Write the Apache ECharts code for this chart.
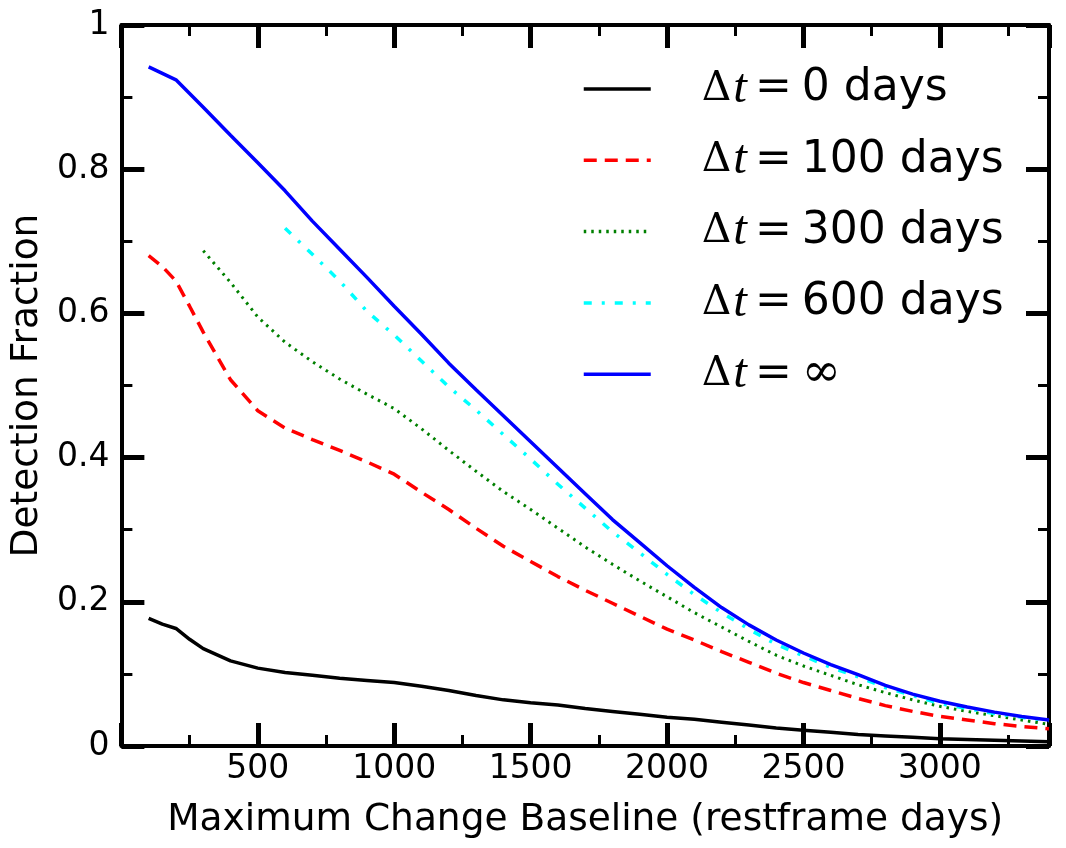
<!DOCTYPE html>
<html>
<head>
<meta charset="utf-8">
<script src="https://cdn.jsdelivr.net/npm/echarts@6/dist/echarts.min.js"></script>
<style>
  html, body { margin: 0; padding: 0; background: #fff; }
  #chart { width: 1066px; height: 848px; }
</style>
</head>
<body>
<div id="chart"></div>
<script>
// maximum change baseline (restframe days)
const baseline = [100, 150, 200, 250, 300, 400, 500, 600, 700, 800, 900, 1000, 1100, 1200, 1300, 1400,
  1500, 1600, 1700, 1800, 1900, 2000, 2100, 2200, 2300, 2400, 2500, 2600, 2700, 2800, 2900, 3000,
  3100, 3200, 3300, 3400];

// detection fraction for each Δt
const dt0 = [0.177, 0.169, 0.163, 0.148, 0.135, 0.118, 0.108, 0.102, 0.098, 0.094, 0.091, 0.088, 0.083, 0.077,
  0.070, 0.064, 0.060, 0.057, 0.052, 0.048, 0.044, 0.040, 0.037, 0.033, 0.029, 0.025, 0.022, 0.019, 0.016,
  0.014, 0.012, 0.010, 0.009, 0.008, 0.007, 0.006];
const dt100 = [0.680, 0.665, 0.645, 0.610, 0.574, 0.508, 0.465, 0.441, 0.425, 0.410, 0.394, 0.377, 0.352, 0.328,
  0.302, 0.277, 0.256, 0.235, 0.216, 0.198, 0.180, 0.162, 0.147, 0.131, 0.116, 0.101, 0.088, 0.077, 0.066,
  0.056, 0.048, 0.041, 0.036, 0.031, 0.027, 0.024];
const dt300 = [null, null, null, null, 0.687, 0.643, 0.595, 0.560, 0.533, 0.509, 0.488, 0.468, 0.440, 0.410,
  0.381, 0.353, 0.328, 0.302, 0.276, 0.252, 0.229, 0.207, 0.185, 0.165, 0.145, 0.126, 0.111, 0.098, 0.085,
  0.074, 0.064, 0.055, 0.048, 0.042, 0.036, 0.030];
const dt600 = [null, null, null, null, null, null, null, 0.718, 0.682, 0.645, 0.603, 0.570, 0.534, 0.498,
  0.466, 0.432, 0.398, 0.363, 0.330, 0.297, 0.268, 0.238, 0.210, 0.185, 0.162, 0.141, 0.125, 0.109, 0.096,
  0.081, 0.070, 0.059, 0.052, 0.045, 0.040, 0.035];
const dtInf = [0.942, 0.933, 0.924, 0.905, 0.886, 0.847, 0.809, 0.770, 0.728, 0.689, 0.650, 0.610, 0.571, 0.531,
  0.494, 0.458, 0.422, 0.386, 0.350, 0.314, 0.282, 0.250, 0.220, 0.192, 0.168, 0.147, 0.129, 0.113, 0.099,
  0.084, 0.072, 0.062, 0.054, 0.047, 0.041, 0.036];

const seriesNames = ["dt0", "dt100", "dt300", "dt600", "dtInf"];
const legendTails = ["0 days", "100 days", "300 days", "600 days", "∞"];

const font = "DejaVu Sans";
const ink = "#000";

function pairs(ys) {
  return baseline.map((x, i) => [x, ys[i]]);
}

function legendText(name) {
  const i = seriesNames.indexOf(name);
  const tail = i === 4 ? `{inf|${legendTails[i]}}` : `{n|${legendTails[i]}}`;
  return `{d|Δ}{t|t}{e|=}${tail}`;
}

function xAxisMajor(position, showLabel) {
  return {
    type: "value",
    position,
    min: 0,
    max: 3400,
    interval: 500,
    axisLine: { show: true, onZero: false, lineStyle: { color: ink, width: 4 } },
    axisTick: { show: true, inside: true, length: 23, lineStyle: { color: ink, width: 5 } },
    axisLabel: {
      show: showLabel,
      color: ink,
      fontFamily: font,
      fontSize: 33,
      margin: 7,
      formatter: (v) => (v === 0 || v === 3400 ? "" : String(v)),
    },
    splitLine: { show: false },
  };
}

function xAxisMinor(position) {
  return {
    type: "value",
    position,
    min: 0,
    max: 3400,
    interval: 250,
    axisLine: { show: false, onZero: false },
    axisTick: { show: true, inside: true, length: 11, lineStyle: { color: ink, width: 3 } },
    axisLabel: { show: false },
    splitLine: { show: false },
  };
}

function yAxisSide(position, showLabel) {
  return {
    type: "value",
    position,
    min: 0,
    max: 1,
    interval: 0.2,
    axisLine: { show: true, onZero: false, lineStyle: { color: ink, width: 4 } },
    axisTick: { show: true, inside: true, length: 23, lineStyle: { color: ink, width: 5 } },
    minorTick: { show: true, splitNumber: 2, length: 11, lineStyle: { color: ink, width: 3 } },
    axisLabel: { show: showLabel, color: ink, fontFamily: font, fontSize: 33, margin: 12 },
    splitLine: { show: false },
    minorSplitLine: { show: false },
  };
}

const chart = echarts.init(document.getElementById("chart"), null, { renderer: "canvas" });

const bottomX = xAxisMajor("bottom", true);
bottomX.name = "Maximum Change Baseline (restframe days)";
bottomX.nameLocation = "middle";
bottomX.nameGap = 55;
bottomX.nameTextStyle = { color: ink, fontFamily: font, fontSize: 37.5 };

const leftY = yAxisSide("left", true);
leftY.name = "Detection Fraction";
leftY.nameLocation = "middle";
leftY.nameGap = 73;
leftY.nameTextStyle = { color: ink, fontFamily: font, fontSize: 37.5 };

const styles = [
  { color: "#000000", width: 3.5, type: "solid" },
  { color: "#ff0000", width: 3.5, type: [13, 8] },
  { color: "#008000", width: 3, type: [2.5, 5] },
  { color: "#00ffff", width: 3.5, type: [8, 10, 3, 10] },
  { color: "#0000ff", width: 3.5, type: "solid" },
];
const values = [dt0, dt100, dt300, dt600, dtInf];

chart.setOption({
  animation: false,
  backgroundColor: "#fff",
  grid: { left: 119, right: 17, top: 25, bottom: 102, containLabel: false },
  legend: {
    orient: "vertical",
    left: 582,
    top: 64,
    padding: 0,
    itemWidth: 67,
    itemHeight: 14,
    itemGap: 21.3,
    data: seriesNames,
    formatter: legendText,
    itemStyle: { opacity: 0 },
    lineStyle: { width: 3.5 },
    textStyle: {
      color: ink,
      lineHeight: 50,
      rich: {
        d: { fontFamily: "DejaVu Serif", fontSize: 41, lineHeight: 50, padding: [0, 0, 0, 46] },
        t: { fontFamily: "Liberation Serif", fontStyle: "italic", fontSize: 49, lineHeight: 50, padding: [0, 0, 0, 2] },
        e: { fontFamily: "DejaVu Serif", fontSize: 44, lineHeight: 50, padding: [0, 10, 0, 8] },
        n: { fontFamily: font, fontSize: 44, lineHeight: 50 },
        inf: { fontFamily: "DejaVu Serif", fontSize: 47, lineHeight: 50 },
      },
    },
  },
  xAxis: [bottomX, xAxisMinor("bottom"), xAxisMajor("top", false), xAxisMinor("top")],
  yAxis: [leftY, yAxisSide("right", false)],
  series: seriesNames.map((name, i) => ({
    name,
    type: "line",
    xAxisIndex: 0,
    yAxisIndex: 0,
    data: pairs(values[i]),
    symbol: "none",
    showSymbol: false,
    smooth: false,
    connectNulls: false,
    lineStyle: styles[i],
    itemStyle: { color: styles[i].color },
    emphasis: { disabled: true },
  })),
});
</script>
</body>
</html>
